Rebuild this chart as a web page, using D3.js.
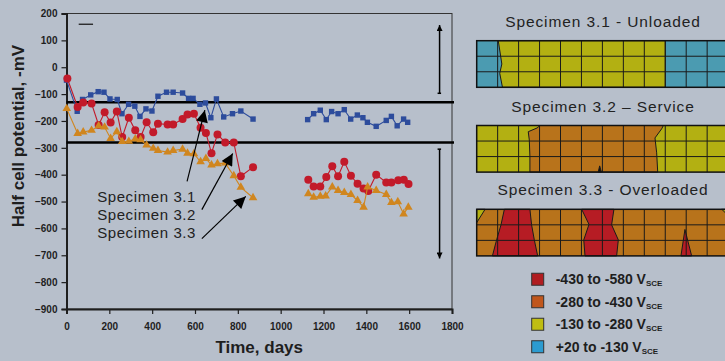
<!DOCTYPE html>
<html>
<head>
<meta charset="utf-8">
<script src="https://cdn.jsdelivr.net/npm/d3@7"></script>
<style>
  html, body { margin: 0; padding: 0; background: #b7bfcb; }
  svg { display: block; font-family: "Liberation Sans", Arial, sans-serif; }
</style>
</head>
<body>
<svg id="chart" width="725" height="361"></svg>
<script>
// ---- data (days, -mV) ----
const xTicks = [0, 200, 400, 600, 800, 1000, 1200, 1400, 1600, 1800];
const yTicks = [200, 100, 0, -100, -200, -300, -400, -500, -600, -700, -800, -900];
const limits = [-130, -280];

const spec31 = [
  [[0,-48],[50,-164],[75,-120],[113,-103],[148,-91],[175,-93],[203,-118],[237,-120],[259,-173],[290,-138],
   [319,-145],[343,-183],[371,-155],[399,-163],[427,-108],[467,-93],[498,-93],[542,-96],[570,-116],[591,-116],
   [623,-138],[649,-133],[674,-188],[700,-118],[734,-185],[775,-173],[814,-163],[871,-193]],
  [[1126,-195],[1154,-173],[1185,-160],[1213,-195],[1238,-165],[1268,-173],[1297,-158],[1327,-193],[1358,-178],
   [1384,-188],[1405,-205],[1446,-220],[1493,-198],[1517,-183],[1544,-218],[1574,-193],[1593,-205]]
];
const spec32 = [
  [[4,-42],[52,-148],[78,-131],[117,-135],[150,-215],[178,-168],[206,-206],[235,-165],[260,-260],[291,-188],
   [321,-235],[346,-260],[374,-205],[405,-242],[427,-210],[472,-213],[498,-213],[542,-193],[565,-176],[595,-173],
   [626,-225],[651,-245],[677,-320],[705,-250],[741,-280],[781,-280],[814,-406],[871,-372]],
  [[1129,-419],[1154,-444],[1185,-444],[1213,-409],[1241,-369],[1268,-406],[1297,-352],[1328,-404],[1359,-434],
   [1387,-451],[1409,-461],[1446,-400],[1493,-429],[1517,-429],[1549,-421],[1575,-419],[1597,-435]]
];
const spec33 = [
  [[1,-154],[52,-247],[78,-241],[117,-235],[150,-219],[178,-223],[206,-265],[235,-240],[260,-277],[291,-276],
   [321,-267],[346,-270],[374,-290],[405,-302],[427,-310],[472,-316],[498,-310],[542,-305],[565,-320],[595,-322],
   [626,-352],[651,-340],[677,-364],[705,-359],[741,-357],[781,-404],[814,-447],[871,-486]],
  [[1129,-471],[1154,-484],[1185,-480],[1210,-479],[1241,-446],[1268,-459],[1297,-466],[1328,-474],[1359,-496],
   [1387,-521],[1406,-446],[1446,-459],[1493,-474],[1517,-504],[1547,-501],[1574,-546],[1596,-521]]
];

const labels = ['Specimen 3.1', 'Specimen 3.2', 'Specimen 3.3'];
const labelPos = [[143,-481],[143,-548],[143,-615]];
const arrows = [[[563,-425],[646,-160]], [[632,-530],[776,-321]], [[632,-638],[837,-481]]];
const rangeArrows = [[[1742,-97],[1742,157]], [[1742,-305],[1742,-712]]];

// ---- contour panels (column, row units) ----
const panelTitles = ['Specimen 3.1 - Unloaded', 'Specimen 3.2 \u2013 Service', 'Specimen 3.3 - Overloaded'];
const panelBase = ['blue', 'yellow', 'orange'];
const panelZones = [
  [{c:'yellow', p:[[1.03,0],[9,0],[9,3],[1.23,3],[1.1,2.1],[1.2,1.5]]}],
  [{c:'orange', p:[[3.02,0],[8.91,0],[8.83,0.21],[8.51,0.8],[8.59,1.76],[8.64,3],[2.54,3],[2.54,2],[2.51,0.93],[2.46,0.4],[2.88,0.16]]},
   {c:'black', p:[[5.87,2.6],[5.95,3],[5.8,3]]}],
  [{c:'red', p:[[1.32,0],[2.54,0],[2.62,1],[2.75,1.97],[2.91,3],[0.75,3],[0.95,1.97],[1.16,1]]},
   {c:'red', p:[[5.01,0],[6.55,0],[6.44,1],[6.76,1.97],[6.68,3],[5.17,3],[5.11,1.97],[5.36,0.97]]},
   {c:'red', p:[[9.94,1.3],[10.26,3],[9.75,3]]},
   {c:'yellow', p:[[0,0],[0.4,0],[0,0.86]]},
   {c:'yellow', p:[[11.7,0],[12.3,0],[12.3,0.8]]}]
];
const zoneColor = {blue:'#4b9bb1', yellow:'#b3b012', orange:'#b8731b', red:'#b61c24', black:'#111'};

const legendKeys = ['-430 to -580 V', '-280 to -430 V', '-130 to -280 V', '+20 to -130 V'];
const legendColors = ['#b01c20', '#c0561c', '#bfbd12', '#2c9bd0'];

// ---- layout ----
const svg = d3.select('#chart');
const ink = '#1e1e1e';
const plotL = 66.5, plotR = 452, plotT = 13.5, plotB = 309;

const x = d3.scaleLinear().domain([0, 1800]).range([plotL, plotR]);
const y = d3.scaleLinear().domain([-900, 200]).range([plotB, plotT]);

// frame
svg.append('rect')
  .attr('x', plotL).attr('y', plotT).attr('width', plotR - plotL).attr('height', plotB - plotT)
  .attr('fill', 'none').attr('stroke', '#333').attr('stroke-width', 1);

const xAxis = svg.append('g')
  .attr('transform', 'translate(0,' + plotB + ')')
  .call(d3.axisBottom(x).tickValues(xTicks).tickFormat(d3.format('d')).tickSize(5).tickPadding(6));
const yAxis = svg.append('g')
  .attr('transform', 'translate(' + plotL + ',0)')
  .call(d3.axisLeft(y).tickValues(yTicks).tickFormat(d3.format('d')).tickSize(5).tickPadding(4));
[xAxis, yAxis].forEach(a => {
  a.select('.domain').attr('stroke', ink).attr('stroke-width', 2);
  a.selectAll('.tick line').attr('stroke', ink).attr('stroke-width', 1.2);
  a.selectAll('text').attr('fill', ink).style('font-size', '10px').style('font-weight', 'bold')
    .style('font-family', '"Liberation Sans", Arial, sans-serif');
});
xAxis.selectAll('text').attr('dy', '0.95em');

// axis titles
svg.append('text')
  .attr('x', (plotL + plotR) / 2).attr('y', 353)
  .attr('text-anchor', 'middle').attr('fill', ink)
  .style('font-size', '17px').style('font-weight', 'bold')
  .text('Time, days');
svg.append('text')
  .attr('transform', 'translate(24,' + 136 + ') rotate(-90)')
  .attr('text-anchor', 'middle').attr('fill', ink)
  .style('font-size', '17px').style('font-weight', 'bold')
  .text('Half cell potential, -mV');

// stray legend stub in top-left
svg.append('line')
  .attr('x1', x(57)).attr('x2', x(124)).attr('y1', y(160)).attr('y2', y(160))
  .attr('stroke', ink).attr('stroke-width', 1.3);

// limit lines
svg.selectAll('.limit').data(limits).enter().append('line')
  .attr('x1', plotL).attr('x2', plotR + 2)
  .attr('y1', d => y(d)).attr('y2', d => y(d))
  .attr('stroke', '#000').attr('stroke-width', 2.5);

// markers
const defs = svg.append('defs');
defs.append('marker').attr('id', 'head')
  .attr('viewBox', '0 0 10 10').attr('refX', 10).attr('refY', 5)
  .attr('markerUnits', 'userSpaceOnUse')
  .attr('markerWidth', 15).attr('markerHeight', 12).attr('orient', 'auto')
  .append('path').attr('d', 'M0,0 L10,5 L0,10 Z').attr('fill', '#000');
defs.append('marker').attr('id', 'small')
  .attr('viewBox', '0 0 10 10').attr('refX', 10).attr('refY', 5)
  .attr('markerUnits', 'userSpaceOnUse')
  .attr('markerWidth', 6).attr('markerHeight', 6).attr('orient', 'auto')
  .append('path').attr('d', 'M0,0 L10,5 L0,10 Z').attr('fill', '#000');

// range arrows
svg.selectAll('.rng').data(rangeArrows).enter().append('line')
  .attr('x1', d => x(d[0][0])).attr('y1', d => y(d[0][1]))
  .attr('x2', d => x(d[1][0])).attr('y2', d => y(d[1][1]))
  .attr('stroke', '#000').attr('stroke-width', 1.5)
  .attr('marker-end', 'url(#small)');
svg.selectAll('.rngcap').data(rangeArrows).enter().append('line')
  .attr('x1', d => x(d[0][0]) - 2).attr('x2', d => x(d[0][0]) + 1.5)
  .attr('y1', d => y(d[0][1])).attr('y2', d => y(d[0][1]))
  .attr('stroke', '#000').attr('stroke-width', 1.5);

// series
const line = d3.line().x(d => x(d[0])).y(d => y(d[1]));
const series = [
  {segs: spec31, color: '#2d4c9c', mark: 'square'},
  {segs: spec32, color: '#c21a2a', mark: 'circle'},
  {segs: spec33, color: '#d0861f', mark: 'triangle'}
];
series.forEach(s => {
  const g = svg.append('g');
  g.selectAll('path.ln').data(s.segs).enter().append('path')
    .attr('d', line).attr('fill', 'none')
    .attr('stroke', s.color).attr('stroke-width', 1.1);
  const pts = s.segs.flat();
  if (s.mark === 'square') {
    g.selectAll('rect').data(pts).enter().append('rect')
      .attr('x', d => x(d[0]) - 2.7).attr('y', d => y(d[1]) - 2.7)
      .attr('width', 5.4).attr('height', 5.4).attr('fill', s.color);
  } else if (s.mark === 'circle') {
    g.selectAll('circle').data(pts).enter().append('circle')
      .attr('cx', d => x(d[0])).attr('cy', d => y(d[1]))
      .attr('r', 4).attr('fill', s.color);
  } else {
    const tri = d3.symbol().type(d3.symbolTriangle).size(32);
    g.selectAll('path.mk').data(pts).enter().append('path')
      .attr('transform', d => 'translate(' + x(d[0]) + ',' + y(d[1]) + ')')
      .attr('d', tri).attr('fill', s.color);
  }
});

// specimen labels and pointer arrows
svg.selectAll('.lbl').data(labels).enter().append('text')
  .attr('x', (d, i) => x(labelPos[i][0])).attr('y', (d, i) => y(labelPos[i][1]))
  .attr('dy', '0.35em').attr('fill', '#222')
  .style('font-size', '15px').style('letter-spacing', '0.6px')
  .text(d => d);
svg.selectAll('.arw').data(arrows).enter().append('line')
  .attr('x1', d => x(d[0][0])).attr('y1', d => y(d[0][1]))
  .attr('x2', d => x(d[1][0])).attr('y2', d => y(d[1][1]))
  .attr('stroke', '#000').attr('stroke-width', 1.2)
  .attr('marker-end', 'url(#head)');

// ---- right-hand contour panels ----
const cols = 12, rows = 3;
const px = d3.scaleLinear().domain([0, cols]).range([476.7, 476.7 + 20.95 * cols]);
const panelTops = [40.7, 125.5, 209.3];
const panelTitleY = [22, 107, 190];
panelTitles.forEach((t, i) => {
  const py = d3.scaleLinear().domain([0, rows]).range([panelTops[i], panelTops[i] + 46.6]);
  svg.append('text')
    .attr('x', 603).attr('y', panelTitleY[i]).attr('dy', '0.35em')
    .attr('text-anchor', 'middle').attr('fill', '#222')
    .style('font-size', '15.5px').style('letter-spacing', '0.9px')
    .text(t);
  const g = svg.append('g');
  g.append('rect')
    .attr('x', px(0)).attr('y', py(0))
    .attr('width', px(cols) - px(0)).attr('height', py(rows) - py(0))
    .attr('fill', zoneColor[panelBase[i]]);
  g.selectAll('polygon').data(panelZones[i]).enter().append('polygon')
    .attr('points', d => d.p.map(q => px(q[0]) + ',' + py(q[1])).join(' '))
    .attr('fill', d => zoneColor[d.c])
    .attr('stroke', '#1a1a1a').attr('stroke-width', 1);
  g.selectAll('line.v').data(d3.range(1, cols)).enter().append('line')
    .attr('x1', d => px(d)).attr('x2', d => px(d))
    .attr('y1', py(0)).attr('y2', py(rows))
    .attr('stroke', '#1a1a1a').attr('stroke-width', 1);
  g.selectAll('line.h').data(d3.range(1, rows)).enter().append('line')
    .attr('x1', px(0)).attr('x2', px(cols))
    .attr('y1', d => py(d)).attr('y2', d => py(d))
    .attr('stroke', '#1a1a1a').attr('stroke-width', 1);
  g.append('rect')
    .attr('x', px(0)).attr('y', py(0))
    .attr('width', px(cols) - px(0)).attr('height', py(rows) - py(0))
    .attr('fill', 'none').attr('stroke', '#111').attr('stroke-width', 1.5);
});

// legend
const ly = d3.scaleBand().domain(legendKeys).range([268, 358]);
const leg = svg.selectAll('.leg').data(legendKeys).enter().append('g')
  .attr('transform', d => 'translate(531.7,' + (ly(d) + ly.bandwidth() / 2) + ')');
leg.append('rect')
  .attr('x', 0).attr('y', -6).attr('width', 12).attr('height', 12)
  .attr('fill', (d, i) => legendColors[i]).attr('stroke', '#333').attr('stroke-width', 1);
const lt = leg.append('text')
  .attr('x', 24).attr('y', 0).attr('dy', '0.36em').attr('fill', ink)
  .style('font-size', '14px').style('font-weight', 'bold');
lt.append('tspan').text(d => d);
lt.append('tspan').attr('dy', '2').style('font-size', '8px').text('SCE');
</script>
</body>
</html>
